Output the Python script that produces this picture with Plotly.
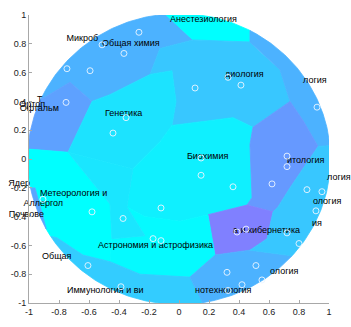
import numpy as np
import plotly.graph_objects as go
from plotly.colors import sample_colorscale

# ---- region outlines (data units); vertices outside the unit disk get clipped ----
A = (-0.907, 0.42); B = (-0.727, 0.533); C = (-0.58, 0.40); D = (-0.74, 0.047)
E = (-0.98, 0.067); F = (-0.46, 0.447); G = (-0.193, 0.587); G2 = (-0.047, 0.613)
G3 = (-0.02, 0.40); I = (-0.127, 0.767); J = (0.093, 0.827); K = (-0.093, 1.007)
L = (0.473, 0.92); M = (0.473, 0.813); N = (0.553, 0.733); N2 = (0.673, 0.62)
O = (0.74, 0.40); P = (0.493, 0.22); P2 = (0.473, 0.10); P3 = (0.487, -0.267)
Q = (0.36, 0.287); S = (-0.047, 0.233); T = (-0.127, 0.12); U = (-0.307, -0.067)
V = (-0.347, -0.333); W = (0.827, 0.267); X = (0.927, 0.087)
Y = (0.74, -0.20); Z = (0.66, -0.333)
Vi1 = (0.193, -0.387); Vi2 = (0.453, -0.32); Vi3 = (0.627, -0.367)
Vi4 = (0.587, -0.553); Vi5 = (0.473, -0.633); Vi6 = (0.24, -0.667)
Bz1 = (0.007, -0.433); Bz2 = (-0.23, -0.40)
Mx = (-0.46, -0.313); Mq = (-0.227, -0.533)
As1 = (-0.447, -0.553); As2 = (-0.46, -0.713); As3 = (-0.26, -0.80); As4 = (0.073, -0.82)
Ob1 = (-0.813, -0.547); Ob2 = (-0.64, -0.667)
Sl1 = (-0.96, -0.20); Sl2 = (-0.873, -0.533)
Bot = (0.173, -1.03); RR = (0.807, -0.68)

region_values = [0.30, 0.00, 0.22, 0.30, 0.37, 0.11, 0.06, 0.40, 0.50,
                 0.00, 0.35, 0.02, 0.20, 0.30, 0.22, 0.10]
region_outlines = [
    [(-1.4, 0.6), A, B, C, F, G, I, J, K, (-0.13, 1.4), (-1.0, 1.2)],
    [K, J, M, L, (0.65, 1.3), (-0.13, 1.4)],
    [J, M, N, N2, O, P, Q, S, G3, G2, G, I],
    [L, M, N, N2, O, W, X, (1.4, 0.12), (1.2, 1.0), (0.65, 1.3)],
    [(-1.4, 0.6), A, B, C, D, E, (-1.4, 0.09)],
    [C, F, G, G2, G3, S, T, U, D],
    [S, Q, P, P2, P3, Vi2, Vi1, Bz1, Bz2, V, U, T],
    [P, O, W, X, Y, Z, Vi3, Vi2, P3, P2],
    [Vi1, Vi2, Vi3, Vi4, Vi5, Vi6],
    [(-1.4, 0.09), E, D, Mx, As1, As2, Ob2, Ob1, Sl2, Sl1, (-1.4, -0.25)],
    [(-1.4, -0.25), Sl1, Sl2, (-1.2, -0.8)],
    [V, Bz2, Bz1, Vi1, Vi6, As4, As3, As2, As1, Mq],
    [(-1.2, -0.8), Sl2, Ob1, Ob2, As2, As3, As4, Bot, (0.25, -1.4)],
    [As4, Vi6, Vi5, RR, (1.1, -0.95), (0.25, -1.4), Bot],
    [X, Y, Z, Vi3, Vi4, Vi5, RR, (1.1, -0.95), (1.4, -0.3), (1.4, 0.12)],
    [D, U, V, Mq, As1, Mx],
]
disk_radius = 1.01

# ---- topic labels: (text, x, y) starting at x ----
labels_left_anchored = [
    ("Микроб", -0.75, 0.833),
    ("Общая химия", -0.513, 0.80),
    ("Анестезиология", -0.06, 0.967),
    ("диология", 0.307, 0.587),
    ("логия", 0.827, 0.54),
    ("Т", -0.947, 0.413),
    ("Генетика", -0.493, 0.313),
    ("Биохимия", 0.053, 0.013),
    ("итология", 0.72, -0.013),
    ("логия", 0.987, -0.133),
    ("Метеорология и", -0.927, -0.24),
    ("ология", 0.893, -0.30),
    ("ия", 0.887, -0.453),
    ("а и кибернетика", 0.36, -0.50),
    ("Астрономия и астрофизика", -0.54, -0.60),
    ("Общая", -0.913, -0.68),
    ("ология", 0.607, -0.78),
    ("Иммунология и ви", -0.747, -0.913),
    ("нотехнология", 0.107, -0.913),
]
# labels reaching past the left axis: (text, x of right end, y)
labels_right_anchored = [
    ("Ортоп", -0.893, 0.38),
    ("Офтальм", -0.80, 0.347),
    ("Ядер", -0.993, -0.173),
    ("Аллергол", -0.773, -0.313),
    ("Почвове", -0.90, -0.387),
]

# ---- sample points ----
pts_x = [-0.267, -0.513, -0.367, -0.747, -0.593, -0.753, -0.353, -0.44, 0.107, 0.327,
         0.413, 0.92, 0.72, 0.72, 0.147, 0.147, 0.36, 0.62, 0.853, 0.953,
         -0.907, -0.58, -0.373, -0.12, -0.173, -0.12, -0.607, -0.387, 0.913, 0.387,
         0.447, 0.72, 0.80, 0.513, 0.32, 0.553, 0.42, 0.327]
pts_y = [0.88, 0.793, 0.733, 0.627, 0.613, 0.393, 0.287, 0.18, 0.493, 0.567,
         0.513, 0.36, 0.02, -0.053, 0.007, -0.113, -0.193, -0.173, -0.213, -0.227,
         -0.28, -0.367, -0.413, -0.34, -0.553, -0.567, -0.74, -0.887, -0.36, -0.507,
         -0.487, -0.513, -0.587, -0.74, -0.787, -0.84, -0.873, -0.913]

tick_vals = [-1, -0.8, -0.6, -0.4, -0.2, 0, 0.2, 0.4, 0.6, 0.8, 1]
tick_text = ["-1", "-0.8", "-0.6", "-0.4", "-0.2", "0", "0.2", "0.4", "0.6", "0.8", "1"]


def clip_to_disk(poly, r, n=360):
    """Sutherland-Hodgman clip of a polygon against a regular n-gon of radius r."""
    ang = np.linspace(0, 2 * np.pi, n, endpoint=False)
    clip = list(zip(r * np.cos(ang), r * np.sin(ang)))
    out = list(poly)

    def inside(p, a, b):
        return (b[0] - a[0]) * (p[1] - a[1]) - (b[1] - a[1]) * (p[0] - a[0]) >= 0

    def cross_pt(p1, p2, a, b):
        x1, y1 = p1; x2, y2 = p2; x3, y3 = a; x4, y4 = b
        den = (x1 - x2) * (y3 - y4) - (y1 - y2) * (x3 - x4)
        t = ((x1 - x3) * (y3 - y4) - (y1 - y3) * (x3 - x4)) / den
        return (x1 + t * (x2 - x1), y1 + t * (y2 - y1))

    for i in range(n):
        a, b = clip[i], clip[(i + 1) % n]
        inp = out
        out = []
        if not inp:
            break
        s = inp[-1]
        for e in inp:
            if inside(e, a, b):
                if not inside(s, a, b):
                    out.append(cross_pt(s, e, a, b))
                out.append(e)
            elif inside(s, a, b):
                out.append(cross_pt(s, e, a, b))
            s = e
    return out


cool = [[0, "rgb(0,255,255)"], [1, "rgb(255,0,255)"]]
colors = sample_colorscale(cool, region_values)

fig = go.Figure()
txt_font = dict(family="Liberation Sans, Arial, sans-serif", size=9, color="black")

for outline, col in zip(region_outlines, colors):
    poly = clip_to_disk(outline, disk_radius)
    xs = [p[0] for p in poly] + [poly[0][0]]
    ys = [p[1] for p in poly] + [poly[0][1]]
    fig.add_trace(go.Scatter(
        x=xs, y=ys, mode="lines", fill="toself", fillcolor=col,
        line=dict(color=col, width=0.8), hoverinfo="skip", showlegend=False))

fig.add_trace(go.Scatter(
    x=[t[1] for t in labels_left_anchored], y=[t[2] for t in labels_left_anchored],
    text=[t[0] for t in labels_left_anchored], mode="text", textposition="middle right",
    textfont=txt_font, cliponaxis=False, hoverinfo="skip", showlegend=False))
fig.add_trace(go.Scatter(
    x=[t[1] for t in labels_right_anchored], y=[t[2] for t in labels_right_anchored],
    text=[t[0] for t in labels_right_anchored], mode="text", textposition="middle left",
    textfont=txt_font, cliponaxis=False, hoverinfo="skip", showlegend=False))

fig.add_trace(go.Scatter(
    x=pts_x, y=pts_y, mode="markers",
    marker=dict(symbol="circle-open", size=6, color="rgba(235,245,255,0.9)",
                line=dict(width=1)),
    hoverinfo="skip", showlegend=False))

axis_common = dict(
    range=[-1, 1], tickvals=tick_vals, ticktext=tick_text, showgrid=False,
    zeroline=False, showline=True, linecolor="#A8A8A8", linewidth=1,
    ticks="inside", ticklen=3, tickcolor="#A8A8A8",
    tickfont=dict(family="Liberation Sans, Arial, sans-serif", size=9, color="#222"),
    fixedrange=True,
)
fig.update_layout(
    width=351, height=327, autosize=False,
    margin=dict(l=29, r=22, t=10, b=17),
    paper_bgcolor="white", plot_bgcolor="white",
    xaxis=dict(**axis_common),
    yaxis=dict(**axis_common),
)
fig.write_html("out.html")
